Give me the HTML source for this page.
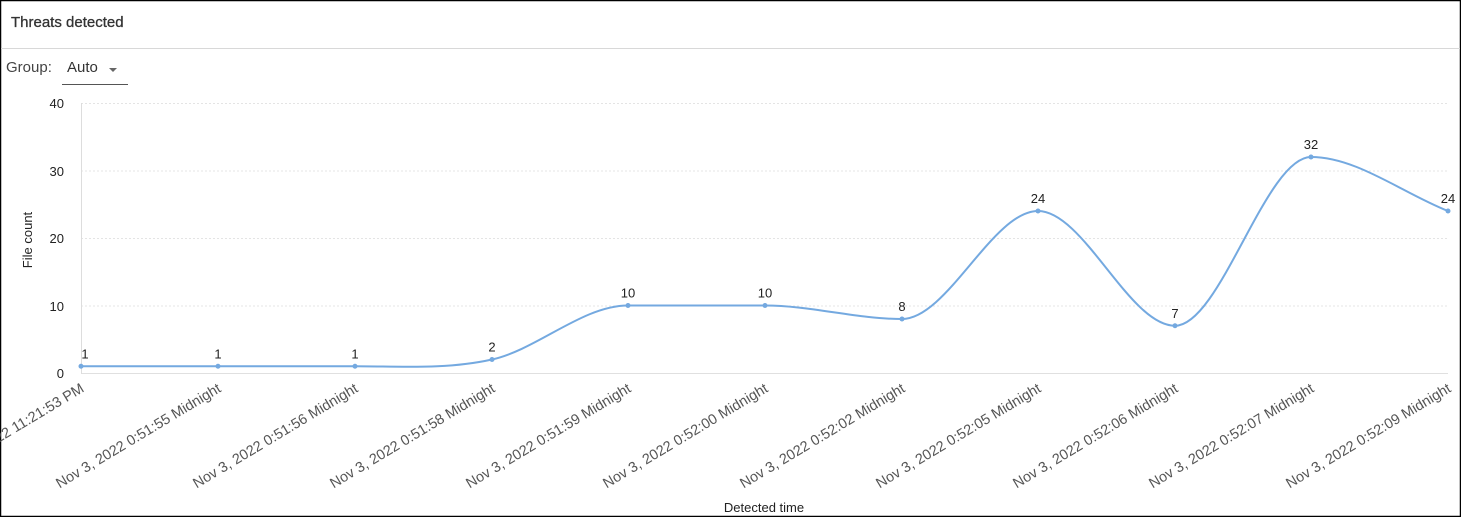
<!DOCTYPE html>
<html><head><meta charset="utf-8"><style>
html,body{margin:0;padding:0;background:#fff;}
body{width:1461px;height:517px;overflow:hidden;position:relative;font-family:"Liberation Sans",Arial,sans-serif;}
</style></head><body>
<svg width="1461" height="517" xmlns="http://www.w3.org/2000/svg" style="position:absolute;left:0;top:0">
<rect x="0.5" y="0.5" width="1460" height="516" fill="#fff" stroke="#000" stroke-width="1.5"/>
<text x="11" y="27" font-size="15" fill="#333" stroke="#333" stroke-width="0.3">Threats detected</text>
<line x1="1" y1="48.5" x2="1460" y2="48.5" stroke="#d8d8d8"/>
<text x="6" y="72" font-size="15" fill="#444">Group:</text>
<text x="67" y="72" font-size="15" fill="#333">Auto</text>
<path d="M109 68 l4 4 l4 -4z" fill="#666"/>
<line x1="62" y1="84.5" x2="128" y2="84.5" stroke="#555"/>
<g stroke="#e4e4e4" stroke-dasharray="2,2">
<line x1="81" y1="103.5" x2="1448" y2="103.5"/>
<line x1="81" y1="171" x2="1448" y2="171"/>
<line x1="81" y1="238.5" x2="1448" y2="238.5"/>
<line x1="81" y1="306" x2="1448" y2="306"/>
</g>
<line x1="81" y1="373.5" x2="1448" y2="373.5" stroke="#e0e0e0"/>
<line x1="81.5" y1="103" x2="81.5" y2="374" stroke="#ddd"/>
<g font-size="13" fill="#222" text-anchor="end">
<text x="64" y="108">40</text><text x="64" y="176">30</text><text x="64" y="243">20</text><text x="64" y="311">10</text><text x="64" y="378">0</text>
</g>
<text transform="translate(32,240) rotate(-90)" font-size="13" fill="#222" text-anchor="middle">File count</text>
<text x="764" y="512" font-size="13" fill="#222" text-anchor="middle">Detected time</text>
<path id="c" fill="none" stroke="#74a9e0" stroke-width="2"/>
<g id="pts" fill="#74a9e0"></g>
<g id="lbl" font-size="13" fill="#222" text-anchor="middle"></g>
<g id="xl" font-size="14.5" fill="#555" text-anchor="end"></g>
</svg>
<script>
var xs=[81,218,355,492,628,765,902,1038,1175,1311,1448],v=[1,1,1,2,10,10,8,24,7,32,24];
var labs=["Nov 2, 2022 11:21:53 PM","Nov 3, 2022 0:51:55 Midnight","Nov 3, 2022 0:51:56 Midnight","Nov 3, 2022 0:51:58 Midnight","Nov 3, 2022 0:51:59 Midnight","Nov 3, 2022 0:52:00 Midnight","Nov 3, 2022 0:52:02 Midnight","Nov 3, 2022 0:52:05 Midnight","Nov 3, 2022 0:52:06 Midnight","Nov 3, 2022 0:52:07 Midnight","Nov 3, 2022 0:52:09 Midnight"];
var P=xs.map(function(x,i){return [x,373-v[i]*6.75];});
var d="M"+P[0][0]+" "+P[0][1];
for(var i=0;i<P.length-1;i++){var p0=P[Math.max(i-1,0)],p1=P[i],p2=P[i+1],p3=P[Math.min(i+2,P.length-1)];
var dx=(p2[0]-p1[0])/3;
var m1=(i==0||(p1[1]-p0[1])*(p2[1]-p1[1])<=0)?0:(p2[1]-p0[1])/(p2[0]-p0[0]);
var m2=(i+1==P.length-1)?(p2[1]-p1[1])/(p2[0]-p1[0]):(((p2[1]-p1[1])*(p3[1]-p2[1])<=0)?0:(p3[1]-p1[1])/(p3[0]-p1[0]));
d+=" C"+(p1[0]+dx)+" "+(p1[1]+m1*dx)+" "+(p2[0]-dx)+" "+(p2[1]-m2*dx)+" "+p2[0]+" "+p2[1];}
document.getElementById("c").setAttribute("d",d);
var ns="http://www.w3.org/2000/svg",g=document.getElementById("pts"),l=document.getElementById("lbl"),xl=document.getElementById("xl");
P.forEach(function(p,i){var c=document.createElementNS(ns,"circle");c.setAttribute("cx",p[0]);c.setAttribute("cy",p[1]);c.setAttribute("r",2.5);g.appendChild(c);
var t=document.createElementNS(ns,"text");t.setAttribute("x",i==0?85:p[0]);t.setAttribute("y",p[1]-8);t.textContent=v[i];l.appendChild(t);
var u=document.createElementNS(ns,"text");u.setAttribute("transform","translate("+(p[0]+4)+",391) rotate(-31)");u.textContent=labs[i];xl.appendChild(u);});
</script>
</body></html>
